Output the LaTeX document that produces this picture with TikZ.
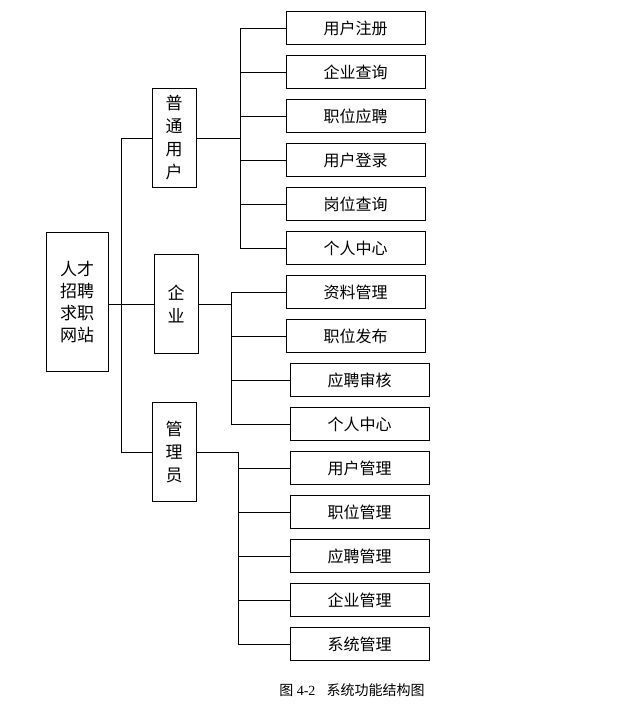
\documentclass[tikz,border=0pt]{standalone}
\usepackage{fontspec}
\setmainfont{Liberation Serif}
\newfontfamily\cjk{Noto Sans CJK SC}
\usetikzlibrary{positioning, calc}

\begin{document}
\begin{tikzpicture}[x=1pt, y=-1pt,
    leaf/.style={rectangle, draw, minimum width=139pt, minimum height=33pt, font=\cjk\fontsize{16}{18}\selectfont},
    group/.style={rectangle, draw, minimum width=44pt, minimum height=99pt, align=center, font=\cjk\fontsize{17}{23}\selectfont},
    link/.style={line width=0.6pt}
]
\useasboundingbox (0,0) rectangle (621,718);

% Root
\node[rectangle, draw, minimum width=62pt, minimum height=139pt, align=center,
      font=\cjk\fontsize{17}{22}\selectfont] (root) at (77,302) {人才\\招聘\\求职\\网站};

% Second level
\node[group] (user) at (174,138) {普\\通\\用\\户};
\node[group] (corp) at (176,304) {企\\业};
\node[group] (admin) at (174,452) {管\\理\\员};

% Leaves
\node[leaf] (u1) at (355.5,28) {用户注册};
\node[leaf] (u2) at (355.5,72) {企业查询};
\node[leaf] (u3) at (355.5,116) {职位应聘};
\node[leaf] (u4) at (355.5,160) {用户登录};
\node[leaf] (u5) at (355.5,204) {岗位查询};
\node[leaf] (u6) at (355.5,248) {个人中心};
\node[leaf] (c1) at (355.5,292) {资料管理};
\node[leaf] (c2) at (355.5,336) {职位发布};
\node[leaf] (c3) at (359.5,380) {应聘审核};
\node[leaf] (c4) at (359.5,424) {个人中心};
\node[leaf] (a1) at (359.5,468) {用户管理};
\node[leaf] (a2) at (359.5,512) {职位管理};
\node[leaf] (a3) at (359.5,556) {应聘管理};
\node[leaf] (a4) at (359.5,600) {企业管理};
\node[leaf] (a5) at (359.5,644) {系统管理};

% Trunk
\coordinate (t0) at (121,138);
\coordinate (t1) at (121,452);
\draw[link] (t0) -- (t1);
\draw[link] (t0) -- (user.west);
\draw[link] (t1) -- (admin.west);
\draw[link] (root.east |- corp.west) -- (corp.west);

% Branches
\draw[link] (user.east) -- (240,138);
\draw[link] (240,28) -- (240,248);
\foreach \n in {u1,u2,u3,u4,u5,u6} \draw[link] (240,0 |- \n.west) -- (\n.west);
\draw[link] (corp.east) -- (231,304);
\draw[link] (231,292) -- (231,424);
\foreach \n in {c1,c2,c3,c4} \draw[link] (231,0 |- \n.west) -- (\n.west);
\draw[link] (admin.east) -- (238,452);
\draw[link] (238,452) -- (238,644);
\foreach \n in {a1,a2,a3,a4,a5} \draw[link] (238,0 |- \n.west) -- (\n.west);

% Caption
\node[font=\fontsize{14}{16}\selectfont] (cap) at (352,690) {{\cjk 图} 4-2\hspace{0.8em}{\cjk 系统功能结构图}};
\end{tikzpicture}
\end{document}
